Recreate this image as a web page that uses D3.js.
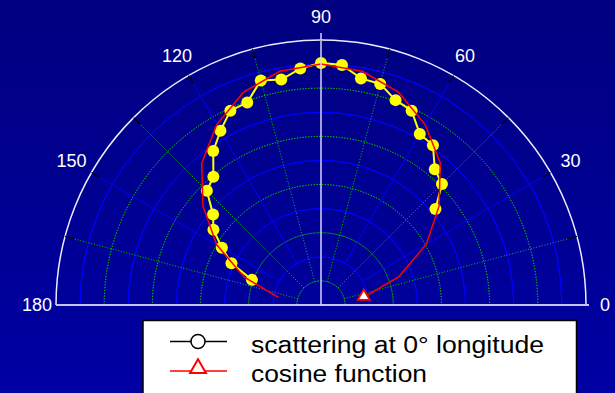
<!DOCTYPE html>
<html>
<head>
<meta charset="utf-8">
<script src="https://cdn.jsdelivr.net/npm/d3@7"></script>
<style>
  html, body { margin: 0; padding: 0; background: #00008c; }
  svg { display: block; }
  .tickLabel { font-family: "Liberation Sans", Arial, sans-serif; font-size: 18px; fill: #ffffff; }
  .legendText { font-family: "Liberation Sans", Arial, sans-serif; font-size: 23px; fill: #000000; }
</style>
</head>
<body>
<div id="chart"></div>
<script>
// scattering at 0° longitude (angle in degrees, radius in plot units)
const scatterAngles = [40, 45, 50, 55, 60, 65, 70, 75, 80, 85, 90, 95, 100, 105, 110, 115, 120, 125, 130, 135, 140, 145, 150, 155, 160];
const scatterValues = [0.62, 0.71, 0.735, 0.81, 0.82, 0.89, 0.905, 0.95, 0.955, 1.0, 1.005, 0.985, 0.95, 0.965, 0.895, 0.89, 0.835, 0.78, 0.695, 0.67, 0.585, 0.545, 0.475, 0.41, 0.305];

// cosine function
const cosineAngles = [10, 20, 30, 40, 50, 60, 70, 80, 90, 100, 110, 120, 130, 140, 150, 160, 170];
const cosineValues = [0.18, 0.345, 0.505, 0.64, 0.77, 0.865, 0.94, 0.985, 1.0, 0.985, 0.94, 0.865, 0.77, 0.64, 0.5, 0.34, 0.18];

const angleTicks = [0, 30, 60, 90, 120, 150, 180];
const angleTickLabels = ['0', '30', '60', '90', '120', '150', '180'];
const legendLabels = ['scattering at 0° longitude', 'cosine function'];

const width = 615, height = 393;
const cx = 321, cy = 305, R = 265;
const rMax = 1.1;

const svg = d3.select('#chart').append('svg')
    .attr('width', width)
    .attr('height', height);

const grad = svg.append('defs').append('linearGradient')
    .attr('id', 'bg').attr('x1', 0).attr('y1', 0).attr('x2', 0).attr('y2', 1);
grad.append('stop').attr('offset', '0%').attr('stop-color', '#000080');
grad.append('stop').attr('offset', '100%').attr('stop-color', '#0000a4');

svg.append('rect').attr('width', width).attr('height', height).attr('fill', 'url(#bg)');

const g = svg.append('g').attr('transform', `translate(${cx},${cy})`);

// degrees (counter-clockwise from +x) -> d3 radial angle (clockwise from 12 o'clock)
const angle = d3.scaleLinear().domain([0, 180]).range([Math.PI / 2, -Math.PI / 2]);
const radius = d3.scaleLinear().domain([0, rMax]).range([0, R]);

const green = '#00c800';

// rings every 0.1, blue solid on even, green dotted on odd
const rings = d3.range(1, 11).map(i => i / 10);
const ringArc = d3.arc()
    .innerRadius(d => radius(d))
    .outerRadius(d => radius(d))
    .startAngle(-Math.PI / 2)
    .endAngle(Math.PI / 2);

g.selectAll('.ring')
    .data(rings)
    .enter().append('path')
    .attr('class', 'ring')
    .attr('d', ringArc)
    .attr('fill', 'none')
    .attr('stroke', (d, i) => i % 2 === 1 ? '#0000ff' : green)
    .attr('stroke-width', 1)
    .attr('stroke-dasharray', (d, i) => i % 2 === 1 ? null : '1,1.8');

// spokes
const spokes = d3.range(15, 180, 15).filter(a => a !== 90);
g.selectAll('.spoke')
    .data(spokes)
    .enter().append('line')
    .attr('class', 'spoke')
    .each(function(d) {
        const inner = d % 30 === 0 ? 0.2 : 0.1;
        const p0 = d3.pointRadial(angle(d), radius(inner));
        const p1 = d3.pointRadial(angle(d), R);
        d3.select(this)
            .attr('x1', p0[0]).attr('y1', p0[1])
            .attr('x2', p1[0]).attr('y2', p1[1]);
    })
    .attr('stroke', d => d % 30 === 0 ? '#0000ff' : green)
    .attr('stroke-width', 1)
    .attr('stroke-dasharray', d => d % 30 === 0 ? null : '1,1.8');

// outer arc
g.append('path')
    .attr('d', d3.arc().innerRadius(R).outerRadius(R).startAngle(-Math.PI / 2).endAngle(Math.PI / 2)())
    .attr('fill', 'none')
    .attr('stroke', '#ececff')
    .attr('stroke-width', 1.5);

// black ticks on the outer arc
g.selectAll('.edgeTick')
    .data(d3.range(0, 181, 15))
    .enter().append('line')
    .attr('class', 'edgeTick')
    .each(function(d) {
        const p0 = d3.pointRadial(angle(d), R - 9);
        const p1 = d3.pointRadial(angle(d), R);
        d3.select(this)
            .attr('x1', p0[0]).attr('y1', p0[1])
            .attr('x2', p1[0]).attr('y2', p1[1]);
    })
    .attr('stroke', '#000000')
    .attr('stroke-width', 1.2);

// scattering series
const scatterData = scatterAngles.map((a, i) => ({a: a, v: scatterValues[i]}));
const radialLine = d3.lineRadial()
    .angle(d => angle(d.a))
    .radius(d => radius(d.v));

g.append('path')
    .datum(scatterData)
    .attr('d', radialLine)
    .attr('fill', 'none')
    .attr('stroke', '#ffff00')
    .attr('stroke-width', 2);

g.selectAll('.scatterDot')
    .data(scatterData)
    .enter().append('circle')
    .attr('class', 'scatterDot')
    .attr('cx', d => d3.pointRadial(angle(d.a), radius(d.v))[0])
    .attr('cy', d => d3.pointRadial(angle(d.a), radius(d.v))[1])
    .attr('r', 6)
    .attr('fill', '#ffff00');

// cosine series
const cosineData = cosineAngles.map((a, i) => ({a: a, v: cosineValues[i]}));
g.append('path')
    .datum(cosineData)
    .attr('d', radialLine)
    .attr('fill', 'none')
    .attr('stroke', '#ff0000')
    .attr('stroke-width', 1.5);

// only the first cosine point carries its marker
const first = d3.pointRadial(angle(cosineData[0].a), radius(cosineData[0].v));
g.append('path')
    .attr('d', d3.symbol(d3.symbolTriangle, 62)())
    .attr('transform', `translate(${first[0]},${first[1] - 1})`)
    .attr('fill', '#ffffff')
    .attr('stroke', '#ff0000')
    .attr('stroke-width', 1.8);

// axes 0-180 and 90
g.append('line')
    .attr('x1', -R).attr('y1', 0).attr('x2', R + 3).attr('y2', 0)
    .attr('stroke', '#c4c4f4')
    .attr('stroke-width', 2.2);
g.append('line')
    .attr('x1', 0).attr('y1', 0).attr('x2', 0).attr('y2', -R - 7)
    .attr('stroke', '#d4d4ff')
    .attr('stroke-width', 1.5);

// angle labels
g.selectAll('.tickLabel')
    .data(angleTicks)
    .enter().append('text')
    .attr('class', 'tickLabel')
    .attr('x', d => d3.pointRadial(angle(d), d % 180 === 0 ? 284 : 288)[0])
    .attr('y', d => d3.pointRadial(angle(d), d % 180 === 0 ? 284 : 288)[1])
    .attr('dy', '0.36em')
    .attr('text-anchor', 'middle')
    .text((d, i) => angleTickLabels[i]);

// legend
const legend = svg.append('g').attr('transform', 'translate(143,320.5)');
legend.append('rect')
    .attr('width', 433.5).attr('height', 100)
    .attr('fill', '#ffffff')
    .attr('stroke', '#000000')
    .attr('stroke-width', 1.5);

legend.append('line')
    .attr('x1', 27).attr('x2', 84).attr('y1', 21).attr('y2', 21)
    .attr('stroke', '#000000').attr('stroke-width', 1.5);
legend.append('circle')
    .attr('cx', 55).attr('cy', 21).attr('r', 7)
    .attr('fill', '#ffffff').attr('stroke', '#000000').attr('stroke-width', 1.5);

legend.append('line')
    .attr('x1', 27).attr('x2', 84).attr('y1', 50.5).attr('y2', 50.5)
    .attr('stroke', '#ff0000').attr('stroke-width', 1.5);
legend.append('path')
    .attr('d', d3.symbol(d3.symbolTriangle, 110)())
    .attr('transform', 'translate(55,48)')
    .attr('fill', '#ffffff').attr('stroke', '#ff0000').attr('stroke-width', 2);

const legendWidths = [293, 176];
legend.selectAll('.legendText')
    .data(legendLabels)
    .enter().append('text')
    .attr('class', 'legendText')
    .attr('x', 108)
    .attr('y', (d, i) => 32 + i * 29)
    .attr('textLength', (d, i) => legendWidths[i])
    .attr('lengthAdjust', 'spacingAndGlyphs')
    .text(d => d);
</script>
</body>
</html>
